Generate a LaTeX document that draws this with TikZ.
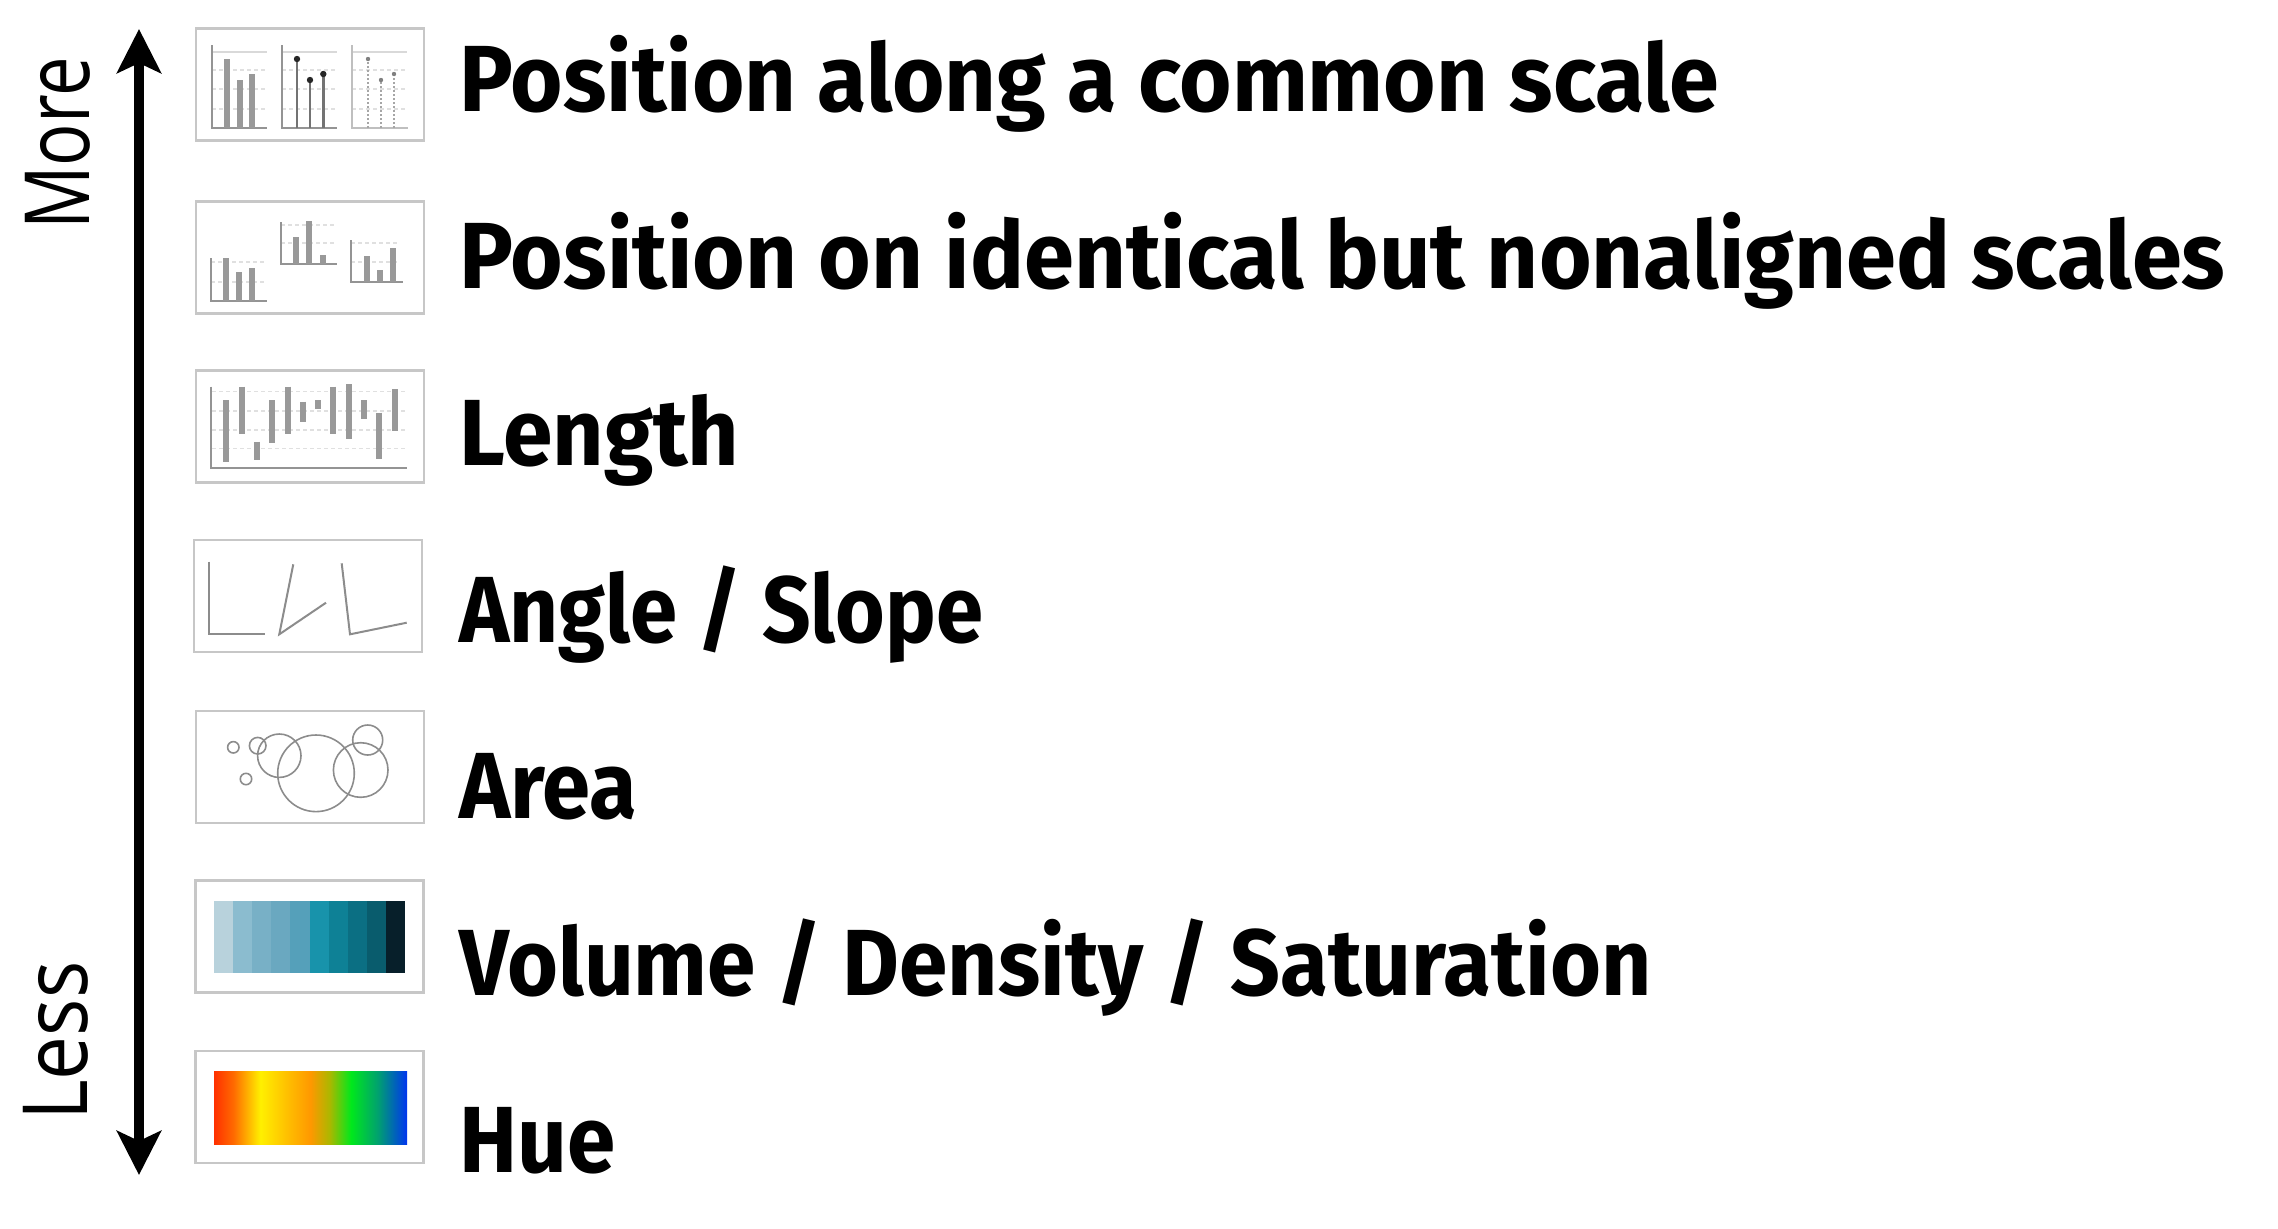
\documentclass[tikz,border=0pt]{standalone}
\usepackage{fontspec}
\usepackage{graphicx}
\setmainfont{Fira Sans}
\newfontfamily\thinfont{Open Sans}
\usetikzlibrary{arrows.meta}
\newsavebox\fitbox
\newcommand\fitw[2]{\sbox\fitbox{#2}\pgfmathsetmacro\fitfac{#1/\the\wd\fitbox}\scalebox{\fitfac}[1]{\usebox\fitbox}}
\newcommand\lblfont{\fontsize{47}{50}\selectfont\bfseries}
\newcommand\sidefont{\thinfont\fontsize{45}{48}\selectfont}
\definecolor{h0}{HTML}{FF3000}
\definecolor{h1}{HTML}{FF6A00}
\definecolor{h2}{HTML}{FFF000}
\definecolor{h3}{HTML}{FFB800}
\definecolor{h4}{HTML}{FF9800}
\definecolor{h5}{HTML}{AAB800}
\definecolor{h6}{HTML}{00E81C}
\definecolor{h7}{HTML}{00A070}
\definecolor{h8}{HTML}{0035F0}
\pgfdeclarehorizontalshading{huebar}{100bp}{color(0bp)=(h0); color(25bp)=(h0); color(30bp)=(h1); color(37bp)=(h2); color(45bp)=(h3); color(50bp)=(h4); color(55bp)=(h5); color(60.5bp)=(h6); color(67.5bp)=(h7); color(75bp)=(h8); color(100bp)=(h8)}
\definecolor{v1}{HTML}{B8D2DC}
\definecolor{v2}{HTML}{8BBCCF}
\definecolor{v3}{HTML}{78B0C6}
\definecolor{v4}{HTML}{6AA8C0}
\definecolor{v5}{HTML}{55A0BA}
\definecolor{v6}{HTML}{1893AB}
\definecolor{v7}{HTML}{0E8196}
\definecolor{v8}{HTML}{0B6F83}
\definecolor{v9}{HTML}{095C6D}
\definecolor{v10}{HTML}{071F2A}
\tikzset{
  frame/.style={draw=black!22, line width=1.3pt, minimum width=114pt, minimum height=56pt, inner sep=0pt},
  ax/.style={draw=black!42, line width=0.9pt},
  lax/.style={draw=black!25, line width=0.8pt},
  gridl/.style={draw=black!12, line width=0.6pt, dash pattern=on 2pt off 1.5pt},
  gtop/.style={draw=black!15, line width=0.6pt},
  bar/.style={draw=black!40, line width=3pt},
  stem/.style={draw=black!55, line width=1.4pt},
  dstem/.style={draw=black!35, line width=0.7pt, dash pattern=on 1pt off 1pt},
  angl/.style={draw=black!45, line width=1pt},
  circ/.style={draw=black!45, line width=0.8pt},
  lbl/.style={anchor=base west, inner sep=0pt},
  side/.style={anchor=base west, inner sep=0pt, rotate=90},
}
\newcommand\lbl[2]{\fitw{#1}{\lblfont #2}}
\begin{document}
\begin{tikzpicture}[x=0.5pt,y=-0.5pt]
\useasboundingbox (0,0) rectangle (2278,1228);
% axis arrow
\coordinate (atop) at (139,29);
\coordinate (abot) at (139,1175);
\draw[line width=5pt, {Stealth[length=22pt,width=22pt,inset=5pt]}-{Stealth[length=22pt,width=22pt,inset=5pt]}] (atop) -- (abot);
\node[side] (more) at (89,230) {\fitw{86.5}{\sidefont More}};
\node[side] (less) at (87,1121) {\fitw{79.5}{\sidefont Less}};
% frames
\node[frame] (ic1) at (310,84.5) {};
\node[frame] (ic2) at (310,257.5) {};
\node[frame] (ic3) at (310,426.5) {};
\node[frame] (ic4) at (308,596) {};
\node[frame] (ic5) at (310,767) {};
\node[frame] (ic6) at (309.5,936.5) {};
\node[frame] (ic7) at (309.5,1107) {};
% labels
\node[lbl] (t1) at (459,111) {\lbl{630}{Position along a common scale}};
\node[lbl] (t2) at (459,288) {\lbl{883}{Position on identical but nonaligned scales}};
\node[lbl] (t3) at (459,465) {\lbl{140}{Length}};
\node[lbl] (t4) at (459,642) {\lbl{262}{Angle / Slope}};
\node[lbl] (t5) at (459,818) {\lbl{89}{Area}};
\node[lbl] (t6) at (459,995) {\lbl{596}{Volume / Density / Saturation}};
\node[lbl] (t7) at (459,1172) {\lbl{78}{Hue}};
% icon 1: common scale
\foreach \xo in {212,282,352}{
  \draw[gtop] (\xo,52) -- (\xo+55,52);
  \foreach \gy in {70,89,109} \draw[gridl] (\xo,\gy) -- (\xo+55,\gy);
}
\draw[ax] (212,45) -- (212,128) -- (267,128);
\draw[ax] (282,45) -- (282,128) -- (337,128);
\draw[lax] (352,45) -- (352,128) -- (408,128);
\draw[bar] (227,128) -- (227,59);
\draw[bar] (239.5,128) -- (239.5,80);
\draw[bar] (252,128) -- (252,74);
\draw[stem] (297,128) -- (297,59);
\draw[stem] (310,128) -- (310,80);
\draw[stem] (323.3,128) -- (323.3,74);
\fill[black!85] (297,59) circle[radius=3.2] (310,80) circle[radius=3.2] (323.3,74) circle[radius=3.2];
\draw[dstem] (368,128) -- (368,59);
\draw[dstem] (381,128) -- (381,80);
\draw[dstem] (394,128) -- (394,74);
\fill[black!50] (368,59) circle[radius=2.2] (381,80) circle[radius=2.2] (394,74) circle[radius=2.2];
% icon 2: nonaligned scales
\draw[gridl] (211,262) -- (264,262);
\draw[gridl] (211,282) -- (264,282);
\draw[ax] (211,258) -- (211,301) -- (267,301);
\draw[bar] (226,301) -- (226,258);
\draw[bar] (239,301) -- (239,272);
\draw[bar] (252,301) -- (252,268);
\draw[gridl] (281,225) -- (334,225);
\draw[gridl] (281,243) -- (334,243);
\draw[ax] (281,222) -- (281,264) -- (337,264);
\draw[bar] (296,264) -- (296,237);
\draw[bar] (309,264) -- (309,221);
\draw[bar] (323,264) -- (323,255);
\draw[gridl] (351,243) -- (400,243);
\draw[gridl] (351,262) -- (400,262);
\draw[ax] (351,240) -- (351,282) -- (403,282);
\draw[bar] (367,282) -- (367,256);
\draw[bar] (380,282) -- (380,270);
\draw[bar] (393,282) -- (393,248);
% icon 3: length
\draw[gridl] (212,391.7) -- (405,391.7);
\draw[gridl] (212,411) -- (405,411);
\draw[gridl] (212,430) -- (405,430);
\draw[gridl] (212,448.3) -- (405,448.3);
\draw[ax] (210.7,386.7) -- (210.7,468.3) -- (407.3,468.3);
\draw[bar] (226,400) -- (226,462.3);
\draw[bar] (241.7,386.7) -- (241.7,434);
\draw[bar] (256.7,441.7) -- (256.7,460);
\draw[bar] (271.7,400) -- (271.7,442.7);
\draw[bar] (287.7,386.7) -- (287.7,434);
\draw[bar] (302.7,401.7) -- (302.7,422.3);
\draw[bar] (318,400) -- (318,409.3);
\draw[bar] (333.3,386.7) -- (333.3,434);
\draw[bar] (349,384) -- (349,439);
\draw[bar] (363.7,400) -- (363.7,419);
\draw[bar] (379.3,412.7) -- (379.3,459);
\draw[bar] (395,389) -- (395,430.7);
% icon 4: angle
\draw[angl] (209,561.7) -- (209,634.3) -- (265,634.3);
\draw[angl] (293.3,564.3) -- (279.3,634.3) -- (326,602.7);
\draw[angl] (341.7,563.3) -- (350,634.3) -- (406.7,622.7);
% icon 5: area
\draw[circ] (233.3,747.3) circle[radius=5.7];
\draw[circ] (257.7,745.7) circle[radius=8.3];
\draw[circ] (246,779) circle[radius=5.7];
\draw[circ] (279.3,755.7) circle[radius=21.7];
\draw[circ] (316,773.3) circle[radius=38.3];
\draw[circ] (360.7,770) circle[radius=27.3];
\draw[circ] (367.7,740) circle[radius=15];
% icon 6: volume / density / saturation
\foreach \i in {1,...,10}{
  \fill[v\i] ({214+(\i-1)*19.1},901) rectangle ({214+\i*19.1+0.3},973);
}
% icon 7: hue
\shade[shading=huebar] (214,1071) rectangle (407,1144);
\end{tikzpicture}
\end{document}
